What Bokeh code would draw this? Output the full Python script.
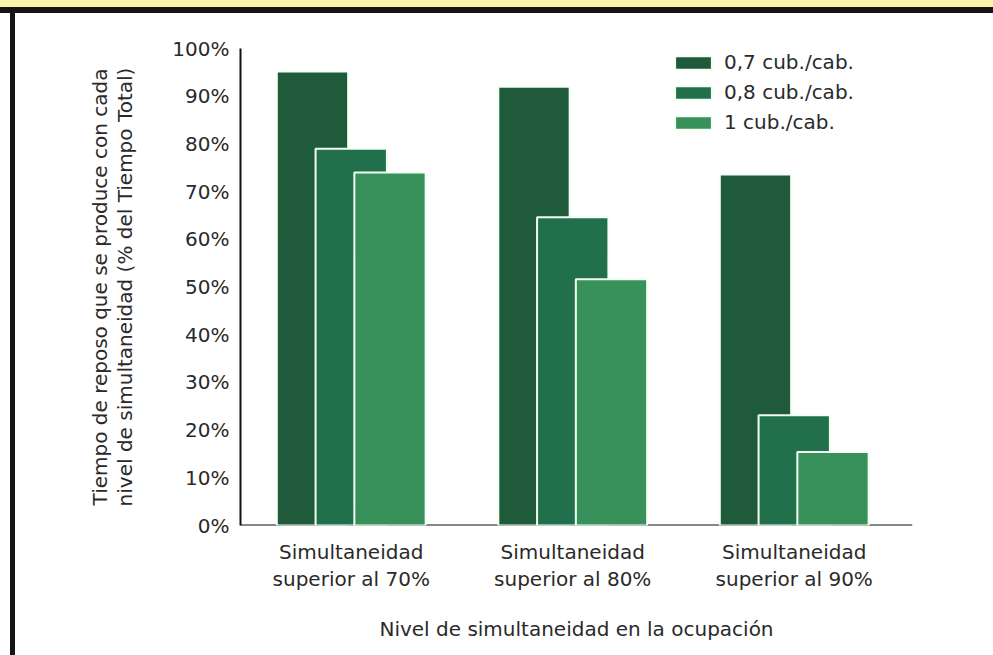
import numpy as np
from bokeh.plotting import figure
from bokeh.layouts import column, row
from bokeh.models import (ColumnDataSource, Range1d, FixedTicker, PrintfTickFormatter,
                          Span, Legend, LegendItem, Div)
from bokeh.embed import file_html
from bokeh.resources import INLINE

# Occupancy simultaneity levels (x categories)
categories = ["Simultaneidad\nsuperior al 70%",
              "Simultaneidad\nsuperior al 80%",
              "Simultaneidad\nsuperior al 90%"]

# Rest time at each simultaneity level (% of total time), per cubicle ratio
series_names = ["0,7 cub./cab.", "0,8 cub./cab.", "1 cub./cab."]
vals_07 = [95.2, 92.0, 73.6]
vals_08 = [79.0, 64.6, 23.1]
vals_10 = [74.0, 51.6, 15.4]

y_ticks = [0, 10, 20, 30, 40, 50, 60, 70, 80, 90, 100]

colors = ["#1f5a3b", "#22704b", "#38915a"]
FONT = "DejaVu Sans"
TXT = "#2a2a2a"

W, H = 993, 655
HEAD = 13      # yellow strip + black rule
SIDE = 15      # white margin + black left border
PW, PH = W - SIDE, H - HEAD

p = figure(width=PW, height=PH, output_backend="svg", toolbar_location=None,
           x_range=Range1d(0, 3.034), y_range=Range1d(0, 100),
           min_border_left=225, min_border_right=81,
           min_border_top=35, min_border_bottom=130)
p.outline_line_color = None
p.xgrid.visible = False
p.ygrid.visible = False
p.background_fill_color = "white"
p.border_fill_color = "white"

# baseline under the bars
p.add_layout(Span(location=0, dimension="width", line_color="#111111",
                  line_width=2, level="underlay"))

centers = np.arange(len(categories)) + 0.5
offsets = [-0.175, 0.0, 0.175]
series = [vals_07, vals_08, vals_10]
renderers = []
for vals, off, col in zip(series, offsets, colors):
    src = ColumnDataSource(dict(x=centers + off, top=vals))
    r = p.vbar(x="x", top="top", bottom=0, width=0.322, source=src,
               fill_color=col, line_color="#f2fff2", line_width=2)
    renderers.append(r)

# y axis
ya = p.yaxis[0]
ya.ticker = FixedTicker(ticks=y_ticks)
ya.formatter = PrintfTickFormatter(format="%d%%")
ya.axis_line_color = "#111111"
ya.axis_line_width = 2
ya.major_tick_line_color = None
ya.minor_tick_line_color = None
ya.major_label_standoff = 5
ya.major_label_text_font = FONT
ya.major_label_text_font_size = "20px"
ya.major_label_text_color = TXT
ya.axis_label = ("Tiempo de reposo que se produce con cada\n"
                 "nivel de simultaneidad (% del Tiempo Total)")
ya.axis_label_text_font = FONT
ya.axis_label_text_font_size = "20px"
ya.axis_label_text_font_style = "normal"
ya.axis_label_text_color = TXT
ya.axis_label_text_line_height = 1.05
ya.axis_label_standoff = 32

# x axis
xa = p.xaxis[0]
xa.ticker = FixedTicker(ticks=list(centers))
xa.major_label_overrides = {float(c): lab for c, lab in zip(centers, categories)}
xa.axis_line_color = None
xa.major_tick_line_color = None
xa.minor_tick_line_color = None
xa.major_label_standoff = 8
xa.major_label_text_font = FONT
xa.major_label_text_font_size = "20px"
xa.major_label_text_color = TXT
xa.major_label_text_line_height = 1.15
xa.axis_label = "Nivel de simultaneidad en la ocupación"
xa.axis_label_text_font = FONT
xa.axis_label_text_font_size = "20px"
xa.axis_label_text_font_style = "normal"
xa.axis_label_text_color = TXT
xa.axis_label_standoff = 23

legend = Legend(items=[LegendItem(label=n, renderers=[r])
                       for n, r in zip(series_names, renderers)],
                location=(430, 391))
legend.glyph_width = 46
legend.glyph_height = 17
legend.label_height = 20
legend.spacing = 6
legend.padding = 0
legend.margin = 0
legend.label_standoff = 8
legend.border_line_color = None
legend.background_fill_alpha = 0
legend.label_text_font = FONT
legend.label_text_font_size = "20px"
legend.label_text_color = TXT
p.add_layout(legend)

# page frame: yellow header strip over a black rule, black left border
strip = Div(width=W, height=7, margin=0, styles={"background-color": "#fcf4a6"})
rule = Div(width=W, height=HEAD - 7, margin=0, styles={"background-color": "#151515"})
gap = Div(width=10, height=PH, margin=0, styles={"background-color": "white"})
border = Div(width=SIDE - 10, height=PH, margin=0, styles={"background-color": "#151515"})

layout = column(strip, rule, row(gap, border, p, spacing=0), spacing=0)

open("out.html", "w").write(file_html(layout, INLINE))
